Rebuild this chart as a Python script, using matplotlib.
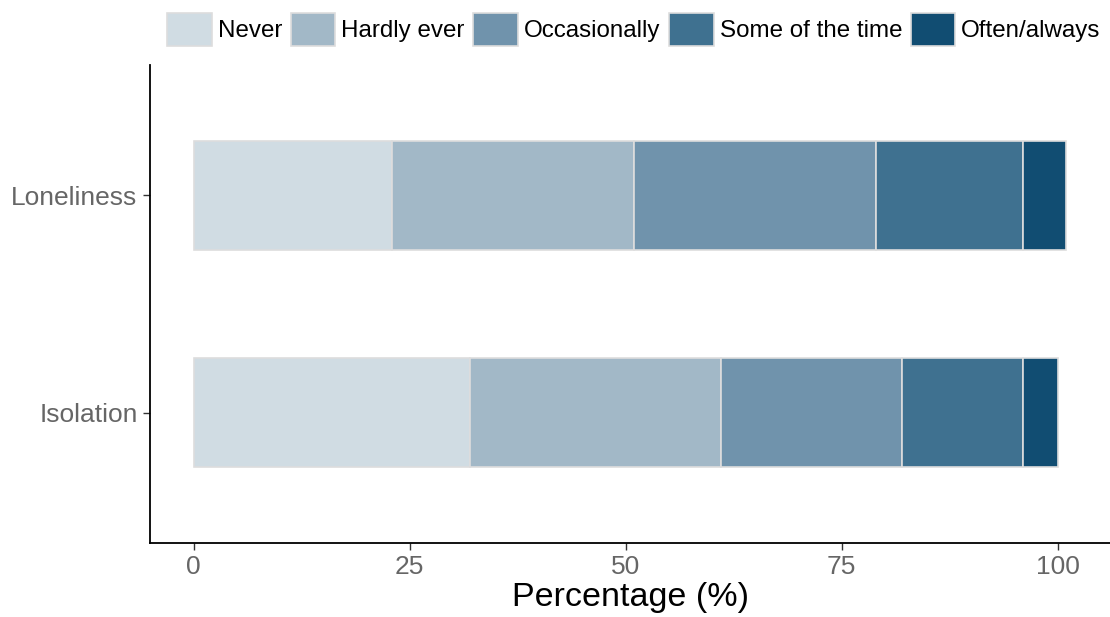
import numpy as np
import matplotlib.pyplot as plt
from matplotlib.patches import Patch

plt.rcParams['font.family'] = ['Liberation Sans', 'DejaVu Sans']

# data
items = ['Isolation', 'Loneliness']
levels = ['Never', 'Hardly ever', 'Occasionally', 'Some of the time', 'Often/always']
never = [32, 23]
hardly = [29, 28]
occasionally = [21, 28]
some_time = [14, 17]
often = [4, 5]
colors = ['#D0DCE3', '#A2B8C7', '#7093AC', '#3F7190', '#114D72']

series = [never, hardly, occasionally, some_time, often]

fig = plt.figure(figsize=(11.1, 6.17), dpi=100)
ax = fig.add_axes([150/1110, 74/617, 960/1110, 478/617])

ypos = np.arange(1, len(items) + 1)
left = np.zeros(len(items))
for vals, c, lab in zip(series, colors, levels):
    ax.barh(ypos, vals, left=left, height=0.5, color=c, edgecolor='#DDDDDD',
            linewidth=1.2, label=lab)
    left = left + np.array(vals)

ax.set_xlim(-5.05, 106.05)
ax.set_ylim(0.4, 2.6)
ax.set_yticks(ypos)
ax.set_yticklabels(items)
ax.set_xticks([0, 25, 50, 75, 100])
ax.tick_params(axis='both', colors='#333333', labelcolor='#666666',
               labelsize=19, length=5, width=1)
ax.tick_params(axis='x', pad=4)
ax.tick_params(axis='y', pad=4)
ax.set_xlabel('Percentage (%)', fontsize=24.5, color='black', labelpad=2)

for s in ['top', 'right']:
    ax.spines[s].set_visible(False)
for s in ['left', 'bottom']:
    ax.spines[s].set_linewidth(1.3)
    ax.spines[s].set_color('black')

handles = [Patch(facecolor=c, edgecolor='#DDDDDD', linewidth=1.2, label=l)
           for c, l in zip(colors, levels)]
fig.legend(handles=handles, loc='center', bbox_to_anchor=(0.571, 1 - 29.5/617),
           ncol=5, frameon=False, fontsize=17.4, handlelength=1.85,
           handleheight=1.75, handletextpad=0.25, columnspacing=0.35,
           borderaxespad=0.0, borderpad=0.0)

fig.savefig('out.png', dpi=100, facecolor='white')
